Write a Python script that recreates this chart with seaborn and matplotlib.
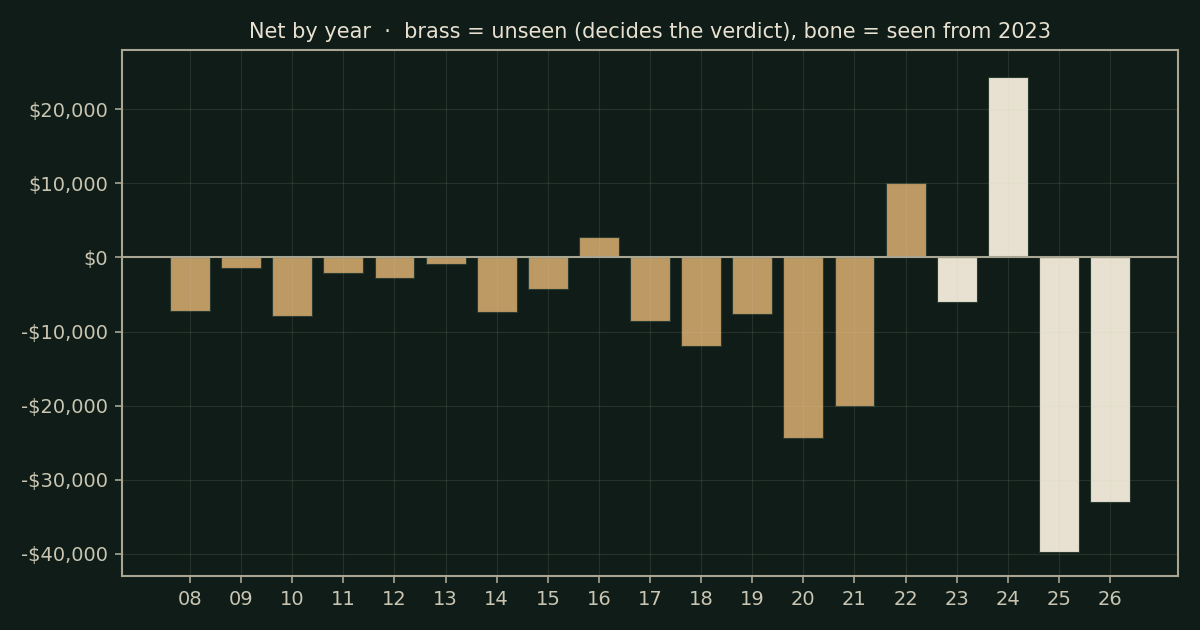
import matplotlib
matplotlib.use("Agg")
import matplotlib.pyplot as plt
import seaborn as sns
import pandas as pd
from matplotlib.ticker import FuncFormatter

years = ["08", "09", "10", "11", "12", "13", "14", "15", "16", "17", "18", "19", "20", "21", "22", "23", "24", "25", "26"]
net = [-7200, -1400, -7900, -2100, -2800, -900, -7400, -4300, 2800, -8600, -11900, -7700, -24400, -20100, 10100, -6000, 24400, -39700, -33000]
group = ["unseen"] * 15 + ["seen"] * 4

BG = "#0f1c17"
BRASS = "#bd9a64"
BONE = "#e8e1d1"
SPINE = "#a8a692"
TEXT = "#c9c5b2"
TITLE = "#e8e1d1"

df = pd.DataFrame({"year": years, "net": net, "group": group})

sns.set_theme(style="dark", font="DejaVu Sans")
plt.rcParams["font.family"] = ["DejaVu Sans"]

fig = plt.figure(figsize=(12, 6.3), dpi=100, facecolor=BG)
ax = fig.add_axes([0.1017, 0.0857, 0.88, 0.8349])
ax.set_facecolor(BG)

sns.barplot(data=df, x="year", y="net", hue="group", order=years,
            palette={"unseen": BRASS, "seen": BONE}, dodge=False, saturation=1,
            width=0.78, edgecolor="#2a3a2e", linewidth=0.8, legend=False, ax=ax)

ax.set_xlim(-1.33, 18 + 1.33)
ax.set_ylim(-43000, 28000)
ax.set_yticks([-40000, -30000, -20000, -10000, 0, 10000, 20000])
ax.yaxis.set_major_formatter(FuncFormatter(lambda v, p: ("-$" if v < 0 else "$") + f"{abs(int(v)):,}"))

ax.set_axisbelow(False)
ax.grid(True, color="#c8c4b0", alpha=0.13, linewidth=0.8)
ax.axhline(0, color=SPINE, linewidth=1.5, zorder=5)

for s in ax.spines.values():
    s.set_visible(True)
    s.set_color(SPINE)
    s.set_linewidth(1.5)

ax.tick_params(axis="both", colors=SPINE, labelcolor=TEXT, labelsize=14, length=5, width=1.2,
               pad=5, bottom=True, left=True)
ax.set_xlabel("")
ax.set_ylabel("")
ax.set_title("Net by year  ·  brass = unseen (decides the verdict), bone = seen from 2023",
             color=TITLE, fontsize=15, pad=9)

fig.savefig("out.png", dpi=100, facecolor=BG)
